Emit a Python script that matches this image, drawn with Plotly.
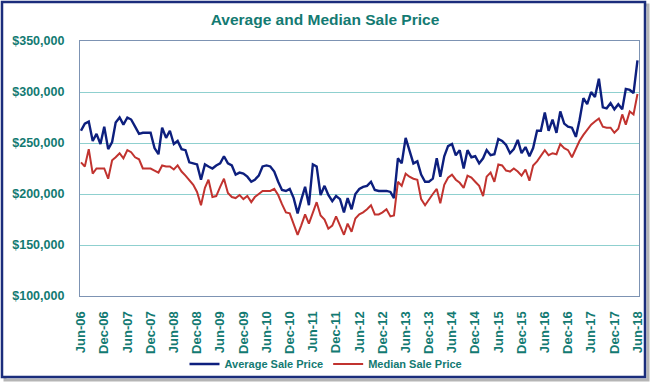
import pandas as pd
import plotly.graph_objects as go

# Monthly sale prices (in $ thousands), Jun-2006 .. Jun-2018
months = pd.date_range("2006-06-01", periods=145, freq="MS")

average_price_k = [
    262, 269, 271, 252, 259, 249, 266, 244, 251, 270, 275, 268, 275, 273, 266, 259, 260, 260, 260, 245, 239, 265, 255, 262, 249,
    252, 244, 243, 231, 230, 229, 214, 229, 227, 225, 228, 230, 237, 230, 228, 219, 221, 220, 217, 212, 214, 218, 227, 228,
    227, 222, 212, 204, 203, 205, 196, 181, 194, 207, 189, 229, 227, 199, 208, 199, 193, 198, 195, 182, 196, 185, 200,
    205, 207, 208, 212, 204, 203, 203, 203, 202, 196, 235, 230, 255, 243, 230, 232, 219, 212, 212, 215, 235, 217, 237, 247, 249, 238, 243,
    225, 243, 236, 237,
    230, 235, 243, 238, 239, 254, 252, 248, 240, 244, 253, 240, 246, 237, 245, 262, 262, 280, 262, 273, 260, 281, 269, 266, 265, 256,
    272, 294, 288, 300, 295, 313, 285, 284, 289, 283, 288, 283, 303, 302, 299, 331,
]

median_price_k = [
    231, 227, 244, 220, 225, 225, 225, 215, 233, 236, 240, 235, 243, 241, 236, 234, 225, 225, 225, 223, 221, 228, 227, 227, 224,
    228, 222, 218, 214, 209, 202, 189, 206, 214, 197, 198, 207, 215, 201, 197, 196, 199, 195, 198, 192, 197, 200, 203,
    203, 203, 205, 199, 190, 182, 181, 171, 160, 169, 180, 171, 181, 192, 179, 175, 166, 169, 178,
    169, 160, 171, 163, 176, 180, 182, 185, 189, 180, 180, 182, 185, 178, 179, 212, 208, 220, 217, 215, 214, 195, 189, 195, 200,
    205, 191, 209, 216, 219, 214, 211,
    206, 218, 216, 212, 208, 198, 217, 221, 212,
    229, 228, 223, 222, 225, 222, 218, 224, 213, 228, 232, 238,
    243, 238, 240, 239, 249, 245, 243, 236, 245, 252, 258, 263, 268, 271, 274, 266, 265, 265, 260, 264, 278, 268, 281, 278, 298,
]

series_names = ["Average Sale Price", "Median Sale Price"]
chart_title = "Average and Median Sale Price"

average_price = [v * 1000 for v in average_price_k]
median_price = [v * 1000 for v in median_price_k]

TEAL = "#137a72"
NAVY = "#0d1f7e"
RED = "#c1332f"
GRID = "#8fd0cf"
FONT = "Liberation Sans, Arial, sans-serif"

fig = go.Figure()
fig.add_trace(go.Scatter(x=months, y=average_price, mode="lines", name=series_names[0],
                         line=dict(color=NAVY, width=2.4)))
fig.add_trace(go.Scatter(x=months, y=median_price, mode="lines", name=series_names[1],
                         line=dict(color=RED, width=2)))

# plot area in pixels: x 80..639, y 41..296 on 650x382 page
L, R, T, B = 80, 11, 41, 86
W, H = 650 - L - R, 382 - T - B

def px(x):
    return (x - L) / W

def py(y):
    return (382 - B - y) / H

shapes = [
    # shadow of outer frame
    dict(type="rect", xref="paper", yref="paper",
         x0=px(5), x1=px(648), y0=py(380), y1=py(5),
         line=dict(color="rgba(120,120,120,0.55)", width=3), layer="below"),
    # outer frame
    dict(type="rect", xref="paper", yref="paper",
         x0=px(2), x1=px(645), y0=py(377), y1=py(2),
         line=dict(color="#1b2d7c", width=2.5), fillcolor="white", layer="below"),
]

fig.update_layout(
    width=650, height=382,
    margin=dict(l=L, r=R, t=T, b=B, autoexpand=False),
    paper_bgcolor="white", plot_bgcolor="white",
    title=dict(text=f"<b>{chart_title}</b>", x=0.5, xref="container", xanchor="center",
               y=1 - 20 / 382, yref="container", yanchor="middle",
               font=dict(family=FONT, size=15.5, color=TEAL)),
    font=dict(family=FONT, color=TEAL),
    showlegend=True,
    legend=dict(orientation="h", x=px(326), xanchor="center", y=py(364), yanchor="middle",
                font=dict(family=FONT, size=11, color=TEAL, weight="bold"),
                itemwidth=30, bgcolor="rgba(0,0,0,0)"),
    shapes=shapes,
)

fig.update_xaxes(
    range=["2006-05-24", "2018-06-13"],
    tick0="2006-06-01", dtick="M6", tickformat="%b-%y",
    tickangle=-90, ticks="", ticklabelstandoff=9,
    tickfont=dict(family=FONT, size=13, color=TEAL, weight="bold"),
    showgrid=False, zeroline=False, automargin=False,
    showline=True, linecolor="#7d93b3", linewidth=1.2, mirror=True,
)
fig.update_yaxes(
    range=[100000, 350000], dtick=50000, tickformat="$,.0f",
    ticks="", ticklabelstandoff=12,
    tickfont=dict(family=FONT, size=12.5, color=TEAL, weight="bold"),
    showgrid=True, gridcolor=GRID, gridwidth=1, zeroline=False, automargin=False,
    showline=True, linecolor="#7d93b3", linewidth=1.2, mirror=True,
)

fig.write_html("out.html", config={"displayModeBar": False},
               post_script="document.body.style.margin='0';")
